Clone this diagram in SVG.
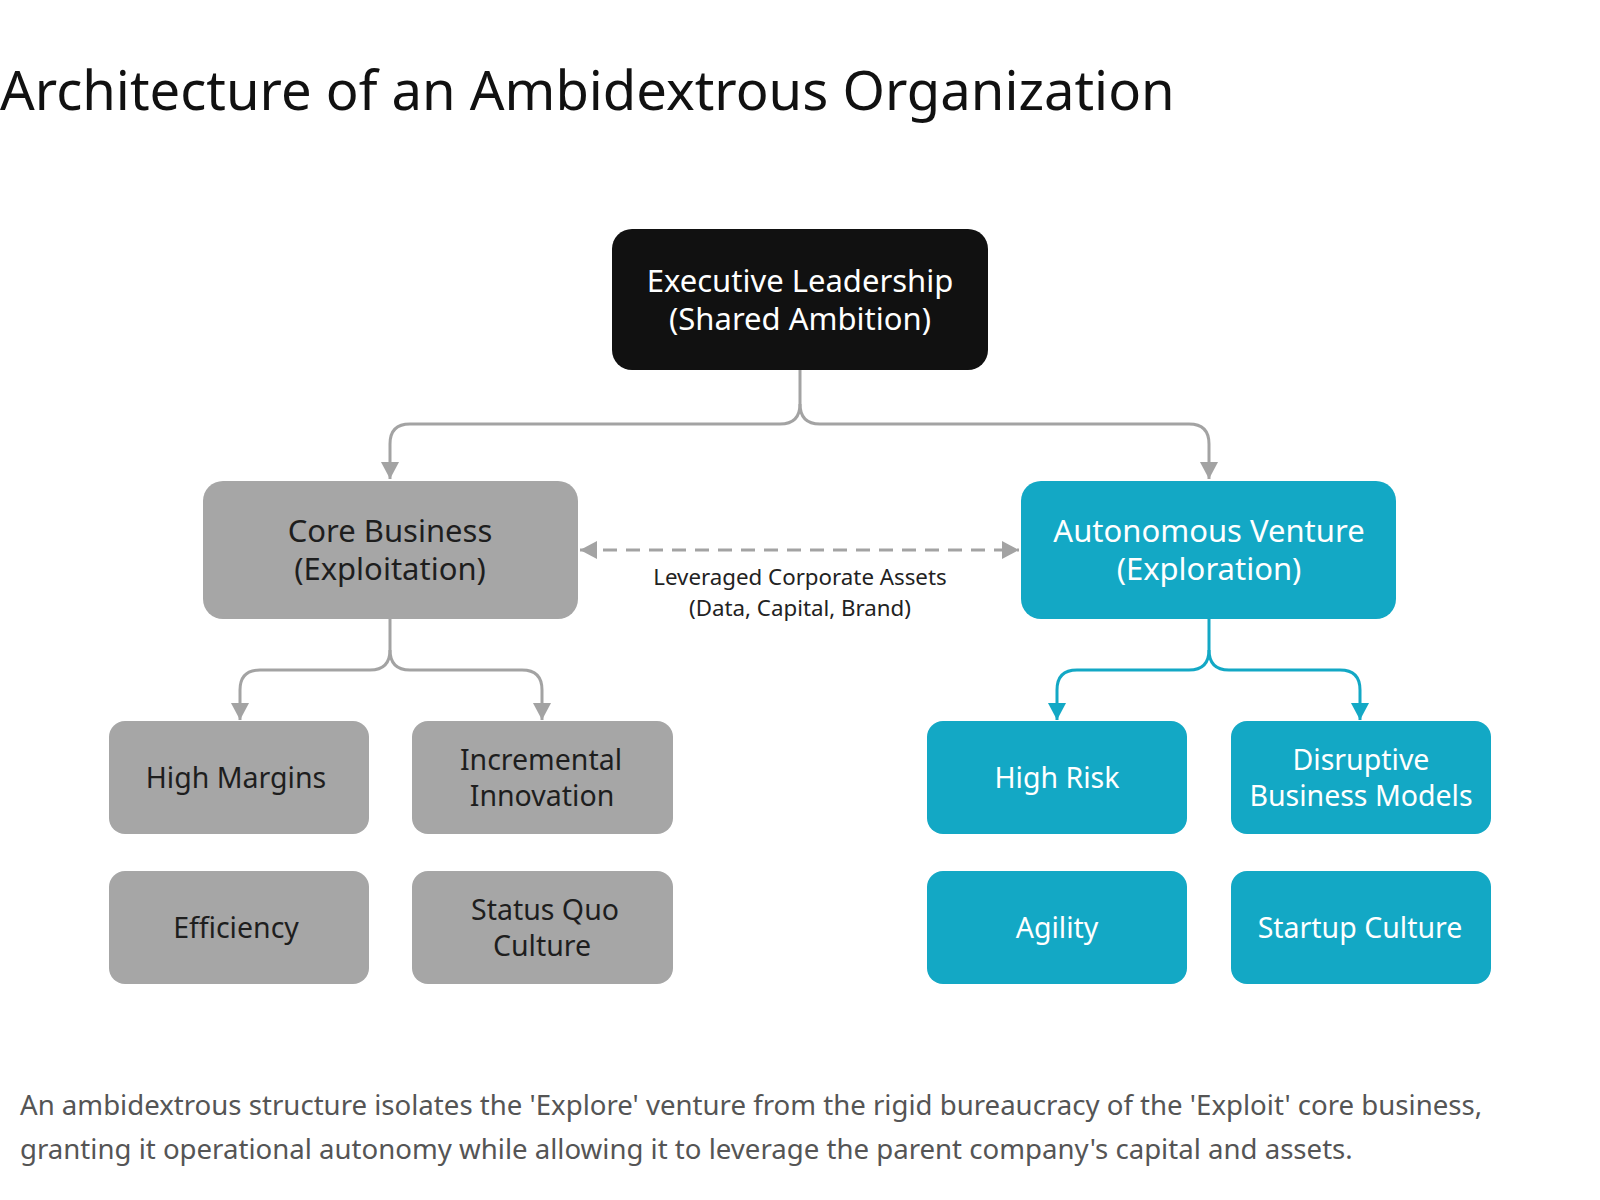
<svg xmlns="http://www.w3.org/2000/svg" width="1600" height="1200" viewBox="0 0 1600 1200">
<style>
.t{font-family:"Noto Sans","Liberation Sans",sans-serif;text-anchor:middle}
.title{font-family:"Noto Sans","Liberation Sans",sans-serif;font-size:54.4px;fill:#111}
.cap{font-family:"Noto Sans","Liberation Sans",sans-serif;font-size:27.6px;fill:#555}
.gray{fill:#a6a6a6}
.teal{fill:#13a8c5}
.blk{fill:#111}
.dk{fill:#1e1e1e}
.wh{fill:#fff}
.n{font-size:31px}
.c{font-size:28.5px}
.l{font-size:22.3px;fill:#222}
.cg{fill:none;stroke:#a3a3a3;stroke-width:3}
.ct{fill:none;stroke:#13a8c5;stroke-width:3}
</style>
<defs>
<marker id="ag" markerUnits="userSpaceOnUse" markerWidth="20" markerHeight="20" refX="17" refY="9" orient="auto"><path d="M0,0 L17,9 L0,18 Z" fill="#a3a3a3"/></marker>
<marker id="at" markerUnits="userSpaceOnUse" markerWidth="20" markerHeight="20" refX="17" refY="9" orient="auto"><path d="M0,0 L17,9 L0,18 Z" fill="#13a8c5"/></marker>
<marker id="agd" markerUnits="userSpaceOnUse" markerWidth="20" markerHeight="20" refX="17" refY="9" orient="auto-start-reverse"><path d="M0,0 L17,9 L0,18 Z" fill="#a3a3a3"/></marker>
</defs>
<rect width="1600" height="1200" fill="#fff"/>
<text class="title" x="0" y="110">Architecture of an Ambidextrous Organization</text>

<g id="connectors">
<path class="cg" d="M800,370 V404 Q800,424 780,424 H410 Q390,424 390,444 V479" marker-end="url(#ag)"/>
<path class="cg" d="M800,404 Q800,424 820,424 H1189 Q1209,424 1209,444 V479" marker-end="url(#ag)"/>
<path class="cg" d="M390,619 V650 Q390,670 370,670 H260 Q240,670 240,690 V720" marker-end="url(#ag)"/>
<path class="cg" d="M390,650 Q390,670 410,670 H522 Q542,670 542,690 V720" marker-end="url(#ag)"/>
<path class="ct" d="M1209,619 V650 Q1209,670 1189,670 H1077 Q1057,670 1057,690 V720" marker-end="url(#at)"/>
<path class="ct" d="M1209,650 Q1209,670 1229,670 H1340 Q1360,670 1360,690 V720" marker-end="url(#at)"/>
<path class="cg" d="M580,550 H1019" stroke-dasharray="14 9" marker-start="url(#agd)" marker-end="url(#agd)"/>
<text class="t l" x="800" y="585">Leveraged Corporate Assets</text>
<text class="t l" x="800" y="616">(Data, Capital, Brand)</text>
</g>

<g id="exec">
<rect class="blk" x="612" y="229" width="376" height="141" rx="20"/>
<text class="t n wh" x="800" y="292">Executive Leadership</text>
<text class="t n wh" x="800" y="330">(Shared Ambition)</text>
</g>
<g id="core">
<rect class="gray" x="203" y="481" width="375" height="138" rx="20"/>
<text class="t n dk" x="390" y="542">Core Business</text>
<text class="t n dk" x="390" y="580">(Exploitation)</text>
</g>
<g id="venture">
<rect class="teal" x="1021" y="481" width="375" height="138" rx="20"/>
<text class="t n wh" x="1209" y="542">Autonomous Venture</text>
<text class="t n wh" x="1209" y="580">(Exploration)</text>
</g>

<g id="high-margins">
<rect class="gray" x="109" y="721" width="260" height="113" rx="16"/>
<text class="t c dk" x="236" y="788">High Margins</text>
</g>
<g id="incremental-innovation">
<rect class="gray" x="412" y="721" width="261" height="113" rx="16"/>
<text class="t c dk" x="541" y="770">Incremental</text>
<text class="t c dk" x="542" y="806">Innovation</text>
</g>
<g id="efficiency">
<rect class="gray" x="109" y="871" width="260" height="113" rx="16"/>
<text class="t c dk" x="236" y="938">Efficiency</text>
</g>
<g id="status-quo">
<rect class="gray" x="412" y="871" width="261" height="113" rx="16"/>
<text class="t c dk" x="545" y="920">Status Quo</text>
<text class="t c dk" x="542" y="956">Culture</text>
</g>
<g id="high-risk">
<rect class="teal" x="927" y="721" width="260" height="113" rx="16"/>
<text class="t c wh" x="1057" y="788">High Risk</text>
</g>
<g id="disruptive">
<rect class="teal" x="1231" y="721" width="260" height="113" rx="16"/>
<text class="t c wh" x="1361" y="770">Disruptive</text>
<text class="t c wh" x="1361" y="806">Business Models</text>
</g>
<g id="agility">
<rect class="teal" x="927" y="871" width="260" height="113" rx="16"/>
<text class="t c wh" x="1057" y="938">Agility</text>
</g>
<g id="startup">
<rect class="teal" x="1231" y="871" width="260" height="113" rx="16"/>
<text class="t c wh" x="1360" y="938">Startup Culture</text>
</g>

<text class="cap" x="20" y="1115">An ambidextrous structure isolates the 'Explore' venture from the rigid bureaucracy of the 'Exploit' core business,</text>
<text class="cap" x="20" y="1159">granting it operational autonomy while allowing it to leverage the parent company's capital and assets.</text>
</svg>
